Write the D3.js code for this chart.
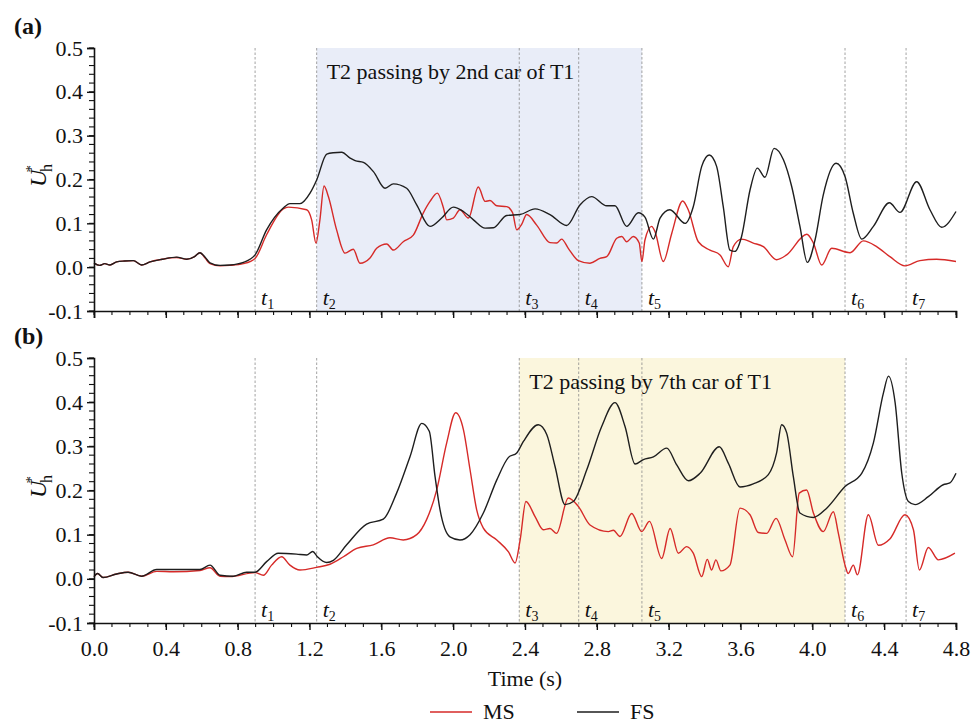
<!DOCTYPE html>
<html>
<head>
<meta charset="utf-8">
<script src="https://cdn.jsdelivr.net/npm/d3@7"></script>
<style>
  html, body { margin: 0; padding: 0; background: #ffffff; }
  svg { display: block; }
  svg text { font-family: "Liberation Serif", "Times New Roman", "DejaVu Serif", serif; }
</style>
</head>
<body>
<svg id="chart" width="973" height="723"></svg>
<script>
// Event times (s) marked by dashed lines
const eventTimes = [0.897, 1.240, 2.368, 2.699, 3.051, 4.182, 4.522];
const eventLabels = ["1", "2", "3", "4", "5", "6", "7"];

// Shaded passing windows
const passA = { from: 1.240, to: 3.051, text: "T2 passing by 2nd car of T1" };
const passB = { from: 2.368, to: 4.182, text: "T2 passing by 7th car of T1" };

const xTicks = [0.0, 0.4, 0.8, 1.2, 1.6, 2.0, 2.4, 2.8, 3.2, 3.6, 4.0, 4.4, 4.8];
const yTicks = [-0.1, 0.0, 0.1, 0.2, 0.3, 0.4, 0.5];

// (a) full-scale (FS) and model-scale (MS) series: [time, U*h]
const fsA = [
  [0.000, 0.009], [0.030, 0.004], [0.060, 0.008], [0.089, 0.005], [0.126, 0.012], [0.170, 0.014],
  [0.219, 0.015], [0.265, 0.005], [0.312, 0.012], [0.380, 0.018], [0.460, 0.023], [0.516, 0.018],
  [0.560, 0.024], [0.590, 0.033], [0.620, 0.022], [0.646, 0.010], [0.702, 0.004], [0.757, 0.005],
  [0.832, 0.011], [0.897, 0.028], [0.961, 0.085], [1.054, 0.135], [1.091, 0.145], [1.147, 0.145],
  [1.203, 0.169], [1.240, 0.199], [1.296, 0.258], [1.333, 0.261], [1.379, 0.262], [1.426, 0.249],
  [1.454, 0.243], [1.500, 0.239], [1.556, 0.218], [1.621, 0.180], [1.667, 0.190], [1.741, 0.180],
  [1.797, 0.142], [1.871, 0.093], [1.936, 0.112], [2.001, 0.137], [2.057, 0.127], [2.113, 0.108],
  [2.178, 0.089], [2.224, 0.090], [2.298, 0.118], [2.372, 0.120], [2.456, 0.133], [2.539, 0.120],
  [2.632, 0.095], [2.706, 0.142], [2.771, 0.161], [2.855, 0.140], [2.901, 0.140], [2.966, 0.093],
  [3.031, 0.124], [3.068, 0.114], [3.115, 0.064], [3.152, 0.112], [3.207, 0.131], [3.291, 0.100],
  [3.337, 0.138], [3.384, 0.230], [3.426, 0.256], [3.467, 0.230], [3.504, 0.138], [3.541, 0.039],
  [3.569, 0.036], [3.606, 0.070], [3.653, 0.176], [3.694, 0.226], [3.736, 0.205], [3.787, 0.271],
  [3.839, 0.245], [3.885, 0.184], [3.931, 0.093], [3.972, 0.011], [4.015, 0.062], [4.061, 0.165],
  [4.132, 0.237], [4.182, 0.207], [4.228, 0.123], [4.275, 0.064], [4.340, 0.093], [4.429, 0.147],
  [4.488, 0.125], [4.581, 0.195], [4.655, 0.131], [4.720, 0.091], [4.800, 0.127]
];
const msA = [
  [0.000, 0.009], [0.030, 0.004], [0.060, 0.008], [0.089, 0.005], [0.126, 0.012], [0.170, 0.014],
  [0.219, 0.015], [0.265, 0.005], [0.312, 0.012], [0.380, 0.018], [0.460, 0.022], [0.516, 0.018],
  [0.560, 0.024], [0.590, 0.033], [0.620, 0.020], [0.646, 0.008], [0.702, 0.003], [0.757, 0.004],
  [0.832, 0.008], [0.897, 0.020], [0.961, 0.074], [1.054, 0.133], [1.082, 0.137], [1.184, 0.131],
  [1.212, 0.108], [1.236, 0.055], [1.258, 0.108], [1.281, 0.185], [1.305, 0.161], [1.351, 0.085],
  [1.398, 0.032], [1.444, 0.041], [1.481, 0.009], [1.537, 0.021], [1.574, 0.043], [1.630, 0.053],
  [1.667, 0.039], [1.722, 0.058], [1.778, 0.073], [1.834, 0.124], [1.871, 0.150], [1.912, 0.169],
  [1.946, 0.135], [1.964, 0.108], [2.001, 0.112], [2.038, 0.131], [2.085, 0.112], [2.140, 0.183],
  [2.178, 0.150], [2.205, 0.152], [2.243, 0.140], [2.298, 0.138], [2.331, 0.124], [2.354, 0.085],
  [2.382, 0.098], [2.409, 0.120], [2.465, 0.096], [2.539, 0.056], [2.576, 0.055], [2.604, 0.064],
  [2.641, 0.043], [2.697, 0.015], [2.762, 0.009], [2.817, 0.020], [2.855, 0.024], [2.911, 0.066],
  [2.939, 0.070], [2.966, 0.058], [3.003, 0.070], [3.036, 0.055], [3.051, 0.013], [3.068, 0.062],
  [3.105, 0.093], [3.124, 0.081], [3.170, 0.013], [3.217, 0.077], [3.278, 0.151], [3.309, 0.131],
  [3.365, 0.058], [3.430, 0.039], [3.486, 0.028], [3.532, 0.001], [3.560, 0.047], [3.606, 0.064],
  [3.671, 0.055], [3.727, 0.047], [3.801, 0.017], [3.857, 0.028], [3.969, 0.075], [4.006, 0.055],
  [4.052, 0.005], [4.108, 0.043], [4.210, 0.033], [4.284, 0.060], [4.358, 0.047], [4.432, 0.024],
  [4.516, 0.003], [4.599, 0.015], [4.692, 0.018], [4.800, 0.013]
];

// (b) full-scale (FS) and model-scale (MS) series: [time, U*h]
const fsB = [
  [0.000, 0.005], [0.020, 0.012], [0.050, 0.003], [0.126, 0.011], [0.190, 0.015], [0.265, 0.006],
  [0.349, 0.021], [0.442, 0.021], [0.590, 0.021], [0.646, 0.031], [0.702, 0.008], [0.776, 0.006],
  [0.850, 0.015], [0.897, 0.015], [0.961, 0.039], [1.026, 0.058], [1.128, 0.056], [1.184, 0.054],
  [1.218, 0.062], [1.244, 0.050], [1.296, 0.037], [1.333, 0.042], [1.407, 0.077], [1.518, 0.124],
  [1.611, 0.135], [1.685, 0.194], [1.760, 0.277], [1.825, 0.352], [1.867, 0.334], [1.899, 0.232],
  [1.927, 0.156], [1.982, 0.095], [2.038, 0.088], [2.094, 0.100], [2.168, 0.149], [2.243, 0.224],
  [2.308, 0.275], [2.354, 0.285], [2.391, 0.311], [2.474, 0.349], [2.521, 0.327], [2.567, 0.255],
  [2.623, 0.168], [2.669, 0.175], [2.744, 0.247], [2.827, 0.345], [2.901, 0.399], [2.957, 0.345],
  [3.013, 0.260], [3.059, 0.270], [3.115, 0.276], [3.189, 0.296], [3.245, 0.258], [3.310, 0.222],
  [3.375, 0.239], [3.482, 0.299], [3.532, 0.262], [3.597, 0.208], [3.671, 0.215], [3.755, 0.236],
  [3.801, 0.285], [3.829, 0.349], [3.857, 0.331], [3.894, 0.232], [3.931, 0.149], [4.006, 0.139],
  [4.080, 0.160], [4.182, 0.209], [4.275, 0.239], [4.340, 0.308], [4.396, 0.421], [4.424, 0.459],
  [4.461, 0.399], [4.498, 0.239], [4.535, 0.175], [4.572, 0.168], [4.646, 0.186], [4.729, 0.213],
  [4.766, 0.217], [4.800, 0.239]
];
const msB = [
  [0.000, 0.005], [0.020, 0.012], [0.050, 0.003], [0.126, 0.011], [0.190, 0.015], [0.265, 0.006],
  [0.349, 0.017], [0.442, 0.016], [0.590, 0.019], [0.646, 0.025], [0.702, 0.006], [0.757, 0.005],
  [0.897, 0.014], [0.943, 0.008], [0.989, 0.031], [1.045, 0.050], [1.091, 0.031], [1.147, 0.020],
  [1.240, 0.026], [1.314, 0.033], [1.389, 0.050], [1.463, 0.069], [1.555, 0.077], [1.648, 0.093],
  [1.722, 0.088], [1.797, 0.100], [1.852, 0.134], [1.908, 0.201], [1.964, 0.308], [2.014, 0.376],
  [2.057, 0.338], [2.094, 0.247], [2.131, 0.156], [2.168, 0.115], [2.243, 0.088], [2.308, 0.061],
  [2.345, 0.036], [2.373, 0.088], [2.405, 0.175], [2.456, 0.141], [2.502, 0.111], [2.539, 0.114],
  [2.576, 0.103], [2.641, 0.183], [2.697, 0.164], [2.762, 0.122], [2.864, 0.107], [2.892, 0.110],
  [2.929, 0.096], [2.994, 0.148], [3.050, 0.107], [3.093, 0.130], [3.161, 0.046], [3.208, 0.114],
  [3.254, 0.058], [3.300, 0.073], [3.337, 0.058], [3.384, 0.005], [3.415, 0.044], [3.439, 0.020],
  [3.463, 0.043], [3.491, 0.018], [3.541, 0.031], [3.597, 0.160], [3.653, 0.145], [3.699, 0.105],
  [3.746, 0.103], [3.798, 0.137], [3.848, 0.088], [3.890, 0.050], [3.927, 0.194], [3.968, 0.201],
  [4.006, 0.149], [4.061, 0.107], [4.117, 0.152], [4.145, 0.103], [4.182, 0.031], [4.200, 0.012],
  [4.228, 0.031], [4.251, 0.009], [4.312, 0.145], [4.368, 0.076], [4.433, 0.091], [4.516, 0.145],
  [4.563, 0.111], [4.596, 0.020], [4.646, 0.071], [4.702, 0.043], [4.794, 0.058]
];

const colorMS = "#d62a28";
const colorFS = "#1e1e1e";
const serif = '"Liberation Serif", "Times New Roman", "DejaVu Serif", serif';
// tick labels use a plain hyphen for negatives
const fmt = v => (v < 0 ? "-" : "") + Math.abs(v).toFixed(1);

const svg = d3.select("#chart");
const left = 94, right = 956;

const x = d3.scaleLinear().domain([0, 4.8]).range([left, right]);

const panels = [
  { tag: "(a)", top: 48, bottom: 311, fs: fsA, ms: msA, pass: passA, fill: "#e9edf8", showX: false, tagY: 34 },
  { tag: "(b)", top: 358, bottom: 623, fs: fsB, ms: msB, pass: passB, fill: "#fbf6dd", showX: true, tagY: 344 }
];

const minorX = d3.range(0, 4.8001, 0.1).map(v => +v.toFixed(2));
const minorY = d3.range(-0.1, 0.5001, 0.02).map(v => +v.toFixed(2));

panels.forEach(p => {
  const y = d3.scaleLinear().domain([-0.1, 0.5]).range([p.bottom, p.top]);
  const g = svg.append("g");

  // shaded passing window
  g.append("rect")
    .attr("x", x(p.pass.from)).attr("y", p.top)
    .attr("width", x(p.pass.to) - x(p.pass.from))
    .attr("height", p.bottom - p.top)
    .attr("fill", p.fill);

  // event markers
  g.selectAll("line.evt").data(eventTimes).enter().append("line")
    .attr("class", "evt")
    .attr("x1", d => x(d)).attr("x2", d => x(d))
    .attr("y1", p.top).attr("y2", p.bottom)
    .attr("stroke", "#8a8a8a").attr("stroke-width", 0.8)
    .attr("stroke-dasharray", "2.5,2");

  const tl = g.selectAll("text.evt").data(eventTimes).enter().append("text")
    .attr("class", "evt")
    .attr("x", d => x(d) + 6).attr("y", p.bottom - 6)
    .attr("font-size", 22).attr("fill", "#111");
  tl.append("tspan").attr("font-style", "italic").text("t");
  tl.append("tspan").attr("font-size", 14).attr("dy", 4).text((d, i) => eventLabels[i]);

  // window caption
  g.append("text")
    .attr("x", x(p.pass.from) + 10).attr("y", p.top + 31)
    .attr("font-size", 22).attr("fill", "#111")
    .text(p.pass.text);

  // series
  const line = d3.line().x(d => x(d[0])).y(d => y(d[1])).curve(d3.curveMonotoneX);
  g.append("path").datum(p.ms).attr("d", line)
    .attr("fill", "none").attr("stroke", colorMS).attr("stroke-width", 1.4);
  g.append("path").datum(p.fs).attr("d", line)
    .attr("fill", "none").attr("stroke", colorFS).attr("stroke-width", 1.4);

  // y axis
  const yAxis = d3.axisLeft(y).tickValues(yTicks).tickSize(7).tickPadding(4).tickFormat(fmt);
  const ya = g.append("g").attr("transform", `translate(${left},0)`).call(yAxis);
  ya.attr("font-family", null);
  ya.select(".domain").attr("stroke", "#111").attr("stroke-width", 1.6);
  ya.selectAll(".tick line").attr("stroke", "#111").attr("stroke-width", 1.4);
  ya.selectAll(".tick text").attr("fill", "#111")
    .style("font-family", serif).style("font-size", "22px");
  g.append("g").selectAll("line").data(minorY).enter().append("line")
    .attr("x1", left - 5).attr("x2", left).attr("y1", d => y(d)).attr("y2", d => y(d))
    .attr("stroke", "#111").attr("stroke-width", 1.1);

  // x axis
  const xAxis = d3.axisBottom(x).tickValues(xTicks).tickSize(7).tickPadding(10)
    .tickFormat(p.showX ? fmt : () => "");
  const xa = g.append("g").attr("transform", `translate(0,${p.bottom})`).call(xAxis);
  xa.attr("font-family", null);
  xa.select(".domain").attr("stroke", "#111").attr("stroke-width", 1.6);
  xa.selectAll(".tick line").attr("stroke", "#111").attr("stroke-width", 1.4);
  xa.selectAll(".tick text").attr("fill", "#111")
    .style("font-family", serif).style("font-size", "22px");
  g.append("g").selectAll("line").data(minorX).enter().append("line")
    .attr("x1", d => x(d)).attr("x2", d => x(d)).attr("y1", p.bottom).attr("y2", p.bottom + 4)
    .attr("stroke", "#111").attr("stroke-width", 1.1);

  // y title: U*h
  const yc = (p.top + p.bottom) / 2 - 4;
  const yt = g.append("text")
    .attr("transform", `translate(46,${yc}) rotate(-90)`)
    .attr("text-anchor", "middle").attr("font-size", 24).attr("fill", "#111");
  yt.append("tspan").attr("font-style", "italic").text("U");
  yt.append("tspan").attr("font-size", 15).attr("dx", -3).attr("dy", -10).text("*");
  yt.append("tspan").attr("font-size", 16).attr("dx", -7).attr("dy", 16).text("h");

  // panel tag
  svg.append("text").attr("x", 14).attr("y", p.tagY)
    .attr("font-size", 24).attr("font-weight", "bold").attr("fill", "#111")
    .text(p.tag);
});

// x title
svg.append("text").attr("x", 525).attr("y", 686).attr("text-anchor", "middle")
  .attr("font-size", 22).attr("fill", "#111").text("Time (s)");

// legend
const legend = [
  { name: "MS", color: colorMS, x: 430 },
  { name: "FS", color: colorFS, x: 577 }
];
const lg = svg.append("g").selectAll("g").data(legend).enter().append("g");
lg.append("line").attr("x1", d => d.x).attr("x2", d => d.x + 42)
  .attr("y1", 712).attr("y2", 712).attr("stroke", d => d.color).attr("stroke-width", 1.6);
lg.append("text").attr("x", d => d.x + 53).attr("y", 719)
  .attr("font-size", 22).attr("fill", "#111").text(d => d.name);
</script>
</body>
</html>
